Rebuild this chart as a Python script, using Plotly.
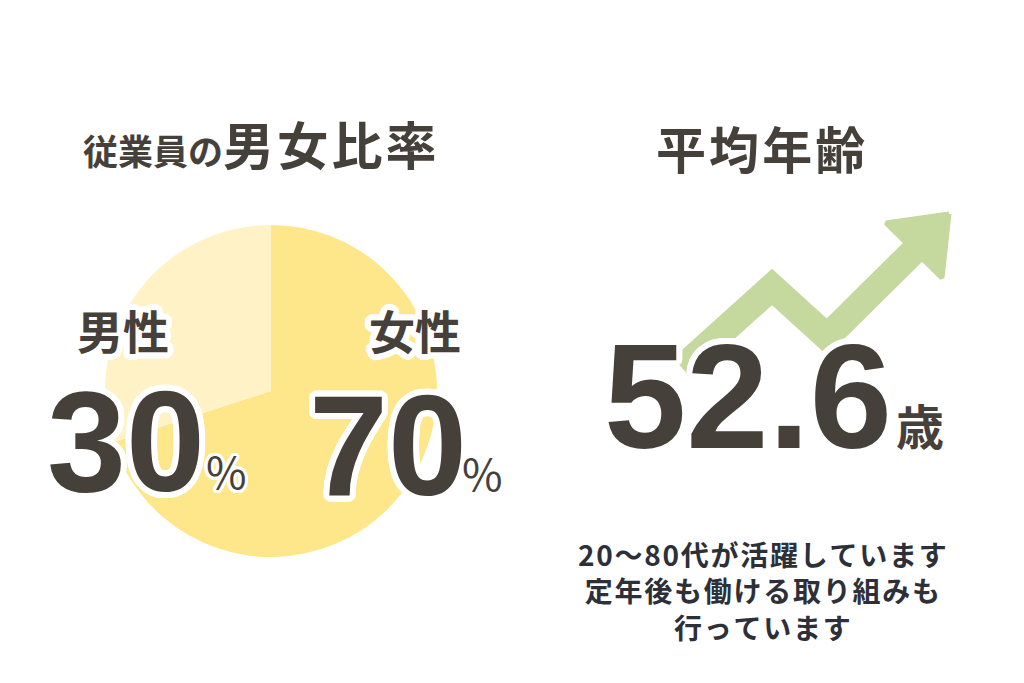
import math

import plotly.graph_objects as go

# data
GENDER_LABELS = ["男性", "女性"]
GENDER_SHARES = [30, 70]
GENDER_COLORS = ["#FEF2C6", "#FEE68A"]
AVERAGE_AGE = 52.6
NOTE_LINES = ["20〜80代が活躍しています", "定年後も働ける取り組みも", "行っています"]

INK = "#46403B"
NOTE_INK = "#2D3038"
ARROW_GREEN = "#C5D89D"
JP_FONT = "Noto Sans CJK JP"
NUM_FONT = "Liberation Sans"
HAIR = "\u200a"


def outline(width, color="white", steps=24):
    # text-shadow ring used as a white outline round the big numbers
    parts = []
    for i in range(steps):
        a = 2 * math.pi * i / steps
        parts.append(f"{width * math.cos(a):.1f}px {width * math.sin(a):.1f}px 0 {color}")
    return ", ".join(parts)


def spaced(text):
    return HAIR.join(text)


fig = go.Figure()

# rising arrow behind the average age (pixel space axes)
fig.add_trace(
    go.Scatter(
        x=[682, 772, 827, 916],
        y=[368, 287, 337, 249],
        mode="lines",
        line=dict(color=ARROW_GREEN, width=27),
        hoverinfo="skip",
        showlegend=False,
    )
)
fig.add_trace(
    go.Scatter(
        x=[949, 886, 942, 949],
        y=[214, 223, 278, 214],
        mode="lines",
        fill="toself",
        fillcolor=ARROW_GREEN,
        line=dict(color=ARROW_GREEN, width=5),
        hoverinfo="skip",
        showlegend=False,
    )
)

# women first so that the men's share ends at 12 o'clock on the left side
fig.add_trace(
    go.Pie(
        labels=GENDER_LABELS[::-1],
        values=GENDER_SHARES[::-1],
        sort=False,
        direction="clockwise",
        rotation=0,
        marker=dict(colors=GENDER_COLORS[::-1], line=dict(width=0)),
        textinfo="none",
        hoverinfo="skip",
        domain=dict(x=[105 / 1024, 437 / 1024], y=[126 / 683, 458 / 683]),
        showlegend=False,
    )
)

ring = outline(6)
annotations = [
    dict(
        x=260, y=143,
        text="従業員の<span style='font-size:51px'>" + spaced("男女比率") + "</span>",
        font=dict(family=JP_FONT, size=35, color=INK, weight=700),
    ),
    dict(x=760, y=147, text=spaced("平均年齢"), font=dict(family=JP_FONT, size=50, color=INK, weight=700)),
    dict(x=123, y=329, text=GENDER_LABELS[0], font=dict(family=JP_FONT, size=46, color=INK, weight=700, shadow=ring)),
    dict(x=415, y=329, text=GENDER_LABELS[1], font=dict(family=JP_FONT, size=46, color=INK, weight=700, shadow=ring)),
    dict(x=126, y=441, text=str(GENDER_SHARES[0]), font=dict(family=NUM_FONT, size=142, color=INK, weight=700, shadow=ring)),
    dict(x=226, y=470, text="%", font=dict(family=JP_FONT, size=44, color=INK, weight=400, shadow=outline(3))),
    dict(x=388, y=445, text=str(GENDER_SHARES[1]), font=dict(family=NUM_FONT, size=142, color=INK, weight=700, shadow=ring)),
    dict(x=482, y=472, text="%", font=dict(family=JP_FONT, size=44, color=INK, weight=400, shadow=outline(3))),
    dict(x=748, y=396, text=f"{AVERAGE_AGE}", font=dict(family=NUM_FONT, size=148, color=INK, weight=700, shadow=ring)),
    dict(x=920, y=424, text="歳", font=dict(family=JP_FONT, size=48, color=INK, weight=700)),
    dict(
        x=762, y=590,
        text="<br>".join(spaced(line) for line in NOTE_LINES),
        align="center",
        font=dict(family=JP_FONT, size=28, color=NOTE_INK, weight=700),
    ),
]
for a in annotations:
    a.update(xref="x", yref="y", showarrow=False, xanchor="center", yanchor="middle")

fig.update_layout(
    width=1024,
    height=683,
    margin=dict(l=0, r=0, t=0, b=0),
    paper_bgcolor="white",
    plot_bgcolor="white",
    xaxis=dict(range=[0, 1024], visible=False, fixedrange=True),
    yaxis=dict(range=[683, 0], visible=False, fixedrange=True),
    annotations=annotations,
    showlegend=False,
)

fig.write_html(
    "out.html",
    config={"displayModeBar": False},
    post_script="document.body.style.margin='0';",
)
